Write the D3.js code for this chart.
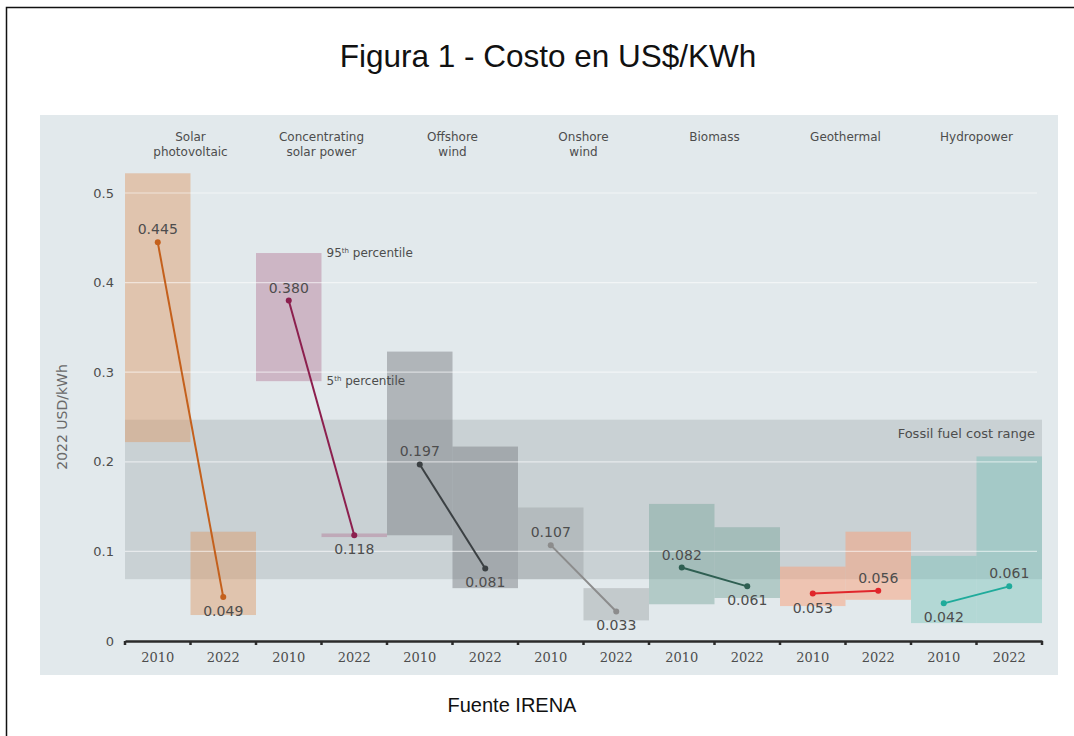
<!DOCTYPE html>
<html>
<head>
<meta charset="utf-8">
<script src="https://cdn.jsdelivr.net/npm/d3@7"></script>
<style>
  body { margin: 0; background: #fff; }
  svg { display: block; }
  .lbl { font-family: "DejaVu Sans", sans-serif; fill: #4d4d4d; }
</style>
</head>
<body>
<svg width="1074" height="736"></svg>
<script>
// data
var headerLines = [["Solar", "photovoltaic"], ["Concentrating", "solar power"], ["Offshore", "wind"],
                   ["Onshore", "wind"], ["Biomass"], ["Geothermal"], ["Hydropower"]];
var years = ["2010", "2022"];
var lcoe2010 = [0.445, 0.380, 0.197, 0.107, 0.082, 0.053, 0.042];
var lcoe2022 = [0.049, 0.118, 0.081, 0.033, 0.061, 0.056, 0.061];
var p95_2010 = [0.522, 0.433, 0.323, 0.149, 0.153, 0.083, 0.095];
var p05_2010 = [0.222, 0.290, 0.118, 0.069, 0.041, 0.039, 0.020];
var p95_2022 = [0.122, 0.120, 0.217, 0.059, 0.127, 0.122, 0.206];
var p05_2022 = [0.029, 0.116, 0.059, 0.023, 0.048, 0.046, 0.020];
var fossilRange = [0.069, 0.247];
var yTicks = [0, 0.1, 0.2, 0.3, 0.4, 0.5];

var boxFill = ["rgba(222,150,100,0.45)", "rgba(180,120,150,0.45)", "rgba(125,130,134,0.5)",
               "rgba(150,155,158,0.4)", "rgba(120,165,155,0.45)", "rgba(250,160,120,0.5)",
               "rgba(110,190,180,0.4)"];
var lineCol = ["#c4601c", "#8c1f4e", "#3b4043", "#8c8c8c", "#2f5f52", "#e0262b", "#1fab9b"];
// which side of the dot the value sits on, 2010 / 2022
var side = [["up", "down"], ["up", "down"], ["up", "down"], ["up", "down"],
            ["up", "down"], ["down", "up"], ["down", "up"]];

var svg = d3.select("svg");

// outer frame (right and bottom edges fall outside the picture)
svg.append("rect")
    .attr("x", 6.5).attr("y", 7.5)
    .attr("width", 1200).attr("height", 900)
    .attr("fill", "none").attr("stroke", "#111").attr("stroke-width", 1.5);

svg.append("text")
    .attr("x", 548).attr("y", 67)
    .attr("text-anchor", "middle")
    .style("font-family", "'Liberation Sans', Arial, sans-serif")
    .style("font-size", "31.5px")
    .attr("fill", "#111")
    .text("Figura 1 - Costo en US$/KWh");

svg.append("text")
    .attr("x", 512).attr("y", 712)
    .attr("text-anchor", "middle")
    .style("font-family", "'Liberation Sans', Arial, sans-serif")
    .style("font-size", "20px")
    .attr("fill", "#111")
    .text("Fuente IRENA");

// panel
svg.append("rect")
    .attr("x", 40).attr("y", 115).attr("width", 1018).attr("height", 560)
    .attr("fill", "#e2e9ec");

var keys = [];
headerLines.forEach(function(h, i) {
    years.forEach(function(yr) { keys.push(i + "-" + yr); });
});

var x = d3.scaleBand().domain(keys).range([125, 1042]);
var y = d3.scaleLinear().domain([0, 0.5]).range([641, 193]);
var groupCx = function(i) { return x(i + "-2010") + x.bandwidth(); };
var cx = function(i, yr) { return x(i + "-" + yr) + x.bandwidth() / 2; };

// fossil fuel band
svg.append("rect")
    .attr("x", x.range()[0]).attr("width", x.range()[1] - x.range()[0])
    .attr("y", y(fossilRange[1]))
    .attr("height", y(fossilRange[0]) - y(fossilRange[1]))
    .attr("fill", "rgba(150,158,163,0.32)");

svg.append("text")
    .attr("class", "lbl")
    .attr("x", 1035).attr("y", y(fossilRange[1]) + 18)
    .attr("text-anchor", "end")
    .style("font-size", "13px")
    .text("Fossil fuel cost range");

// percentile boxes
var boxes = [];
headerLines.forEach(function(h, i) {
    boxes.push({ i: i, yr: "2010", hi: p95_2010[i], lo: p05_2010[i] });
    boxes.push({ i: i, yr: "2022", hi: p95_2022[i], lo: p05_2022[i] });
});
svg.selectAll(".box").data(boxes).enter().append("rect")
    .attr("class", "box")
    .attr("x", function(d) { return x(d.i + "-" + d.yr); })
    .attr("width", x.bandwidth())
    .attr("y", function(d) { return y(d.hi); })
    .attr("height", function(d) { return Math.max(1, y(d.lo) - y(d.hi)); })
    .attr("fill", function(d) { return boxFill[d.i]; });

// gridlines, faint white over everything
svg.selectAll(".grid").data(yTicks.slice(1)).enter().append("line")
    .attr("class", "grid")
    .attr("x1", 125).attr("x2", 1037)
    .attr("y1", function(d) { return y(d); }).attr("y2", function(d) { return y(d); })
    .attr("stroke", "#fff").attr("stroke-opacity", 0.55).attr("stroke-width", 1.2);

// percentile notes on the CSP 2010 box
var note = function(val, num) {
    var t = svg.append("text").attr("class", "lbl")
        .attr("x", x("1-2010") + x.bandwidth() + 5).attr("y", y(val) + 4)
        .style("font-size", "12px");
    t.append("tspan").text(num);
    t.append("tspan").attr("dy", -4).style("font-size", "7px").text("th");
    t.append("tspan").attr("dy", 4).text(" percentile");
};
note(p95_2010[1], "95");
note(p05_2010[1], "5");

// trend lines and dots
var g = svg.append("g");
headerLines.forEach(function(h, i) {
    var pts = [[cx(i, "2010"), y(lcoe2010[i])], [cx(i, "2022"), y(lcoe2022[i])]];
    g.append("path")
        .attr("d", d3.line()(pts))
        .attr("stroke", lineCol[i]).attr("stroke-width", 2).attr("fill", "none");
    g.selectAll(null).data(pts).enter().append("circle")
        .attr("cx", function(d) { return d[0]; }).attr("cy", function(d) { return d[1]; })
        .attr("r", 3).attr("fill", lineCol[i]);
    [lcoe2010[i], lcoe2022[i]].forEach(function(v, k) {
        g.append("text").attr("class", "lbl")
            .attr("x", pts[k][0])
            .attr("y", pts[k][1] + (side[i][k] === "up" ? -8 : 19))
            .attr("text-anchor", "middle")
            .style("font-size", "14px")
            .text(d3.format(".3f")(v));
    });
});

// category headers
headerLines.forEach(function(lines, i) {
    var t = svg.append("text").attr("class", "lbl")
        .attr("text-anchor", "middle")
        .style("font-size", "12px")
        .attr("fill", "#5a5a5a")
        .attr("y", 141);
    lines.forEach(function(s, k) {
        t.append("tspan").attr("x", groupCx(i)).attr("dy", k ? 15 : 0).text(s);
    });
});

// y axis
var ya = svg.append("g")
    .attr("transform", "translate(125,0)")
    .call(d3.axisLeft(y).tickValues(yTicks).tickSize(0).tickPadding(11)
        .tickFormat(function(d) { return d === 0 ? "0" : d3.format(".1f")(d); }));
ya.select(".domain").remove();
ya.selectAll("text")
    .style("font-family", "'DejaVu Sans', sans-serif").style("font-size", "13px")
    .attr("fill", "#4d4d4d");

svg.append("text")
    .attr("transform", "translate(67,417) rotate(-90)")
    .attr("text-anchor", "middle")
    .style("font-family", "'DejaVu Sans', sans-serif")
    .style("font-size", "14px")
    .attr("fill", "#6a6a6a")
    .text("2022 USD/kWh");

// x axis
var xa = svg.append("g")
    .attr("transform", "translate(0," + y(0) + ")")
    .call(d3.axisBottom(x).tickSize(0).tickPadding(12)
        .tickFormat(function(d) { return d.split("-")[1]; }));
xa.select(".domain").attr("stroke", "#2b2b2b").attr("stroke-width", 2.5);
xa.selectAll("text")
    .style("font-family", "'DejaVu Serif', serif").style("font-size", "13px")
    .attr("fill", "#4d4d4d");

var edges = keys.map(function(k) { return x(k); }).concat([x.range()[1]]);
xa.selectAll(".edge").data(edges).enter().append("line")
    .attr("class", "edge")
    .attr("x1", function(d) { return d; }).attr("x2", function(d) { return d; })
    .attr("y1", 0).attr("y2", 4)
    .attr("stroke", "#2b2b2b").attr("stroke-width", 2.5);
</script>
</body>
</html>
